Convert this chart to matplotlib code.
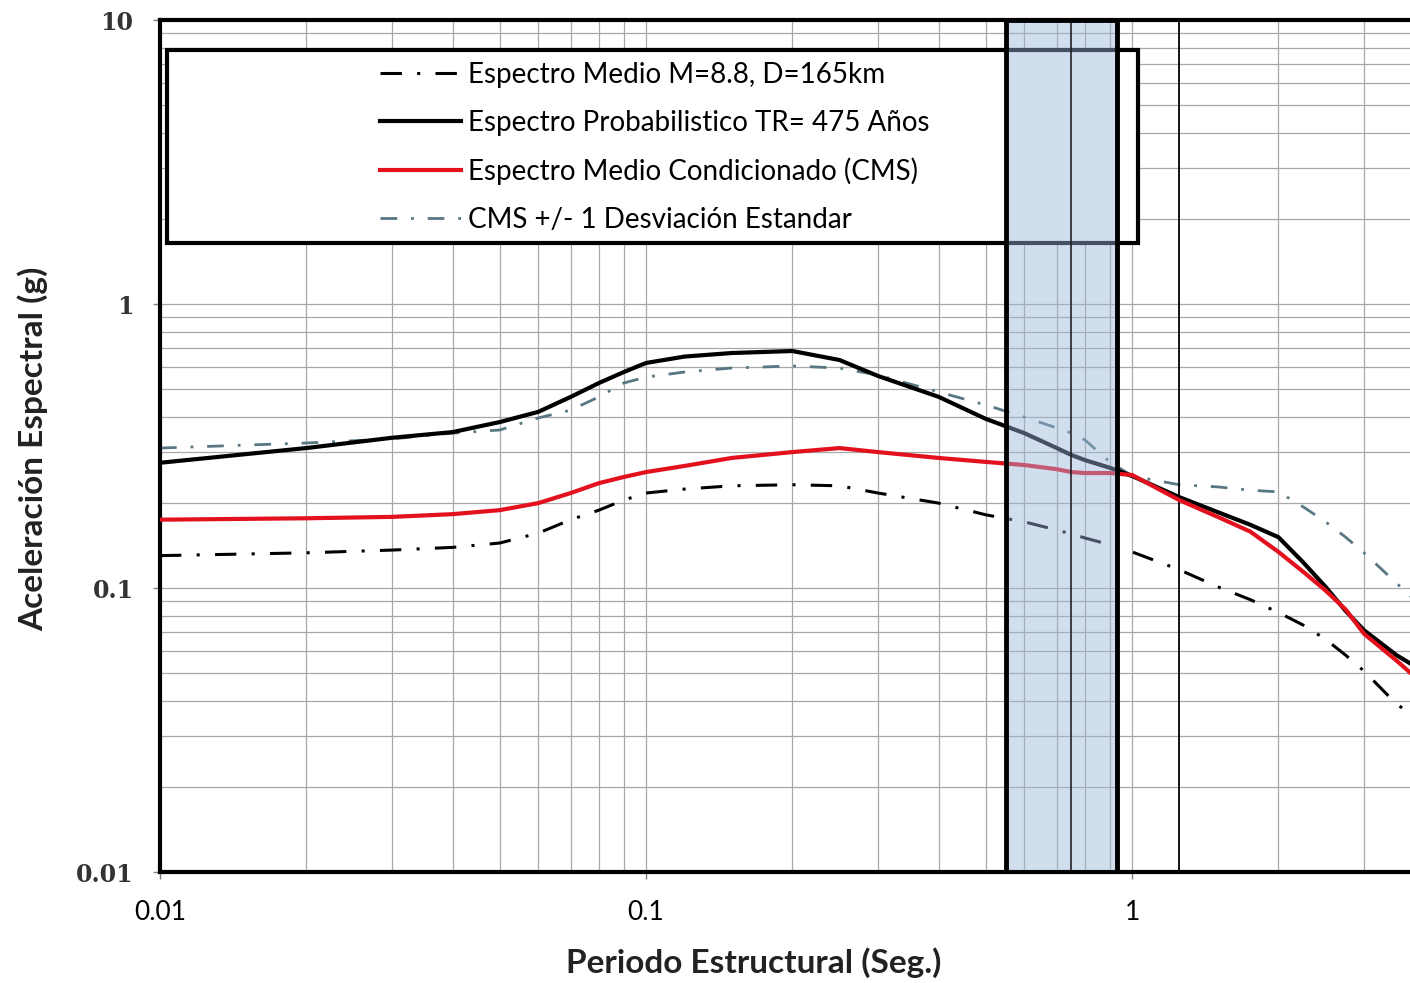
import matplotlib
matplotlib.use("Agg")
import matplotlib.pyplot as plt
import numpy as np
from matplotlib.patches import Rectangle
from matplotlib.ticker import LogLocator, NullFormatter

# Periodos estructurales (s)
periodos = [0.01, 0.02, 0.03, 0.04, 0.05, 0.06, 0.07, 0.08, 0.09, 0.10,
            0.12, 0.15, 0.20, 0.25, 0.30, 0.40, 0.50, 0.60, 0.70, 0.75,
            0.80, 0.90, 1.00, 1.25, 1.50, 1.75, 2.00, 2.25, 2.50, 2.75,
            3.00, 3.50, 3.75]

# Espectro medio M=8.8, D=165km
sa_medio = [0.130, 0.133, 0.136, 0.139, 0.144, 0.156, 0.174, 0.188, 0.204, 0.216,
            0.223, 0.229, 0.231, 0.229, 0.216, 0.199, 0.181, 0.171, 0.160, 0.155,
            0.150, 0.142, 0.134, 0.116, 0.101, 0.091, 0.082, 0.074, 0.066, 0.058,
            0.051, 0.039, 0.036]

# Espectro de peligro uniforme TR=475
sa_uhs = [0.276, 0.311, 0.338, 0.354, 0.384, 0.417, 0.471, 0.527, 0.576, 0.620,
          0.653, 0.672, 0.683, 0.635, 0.558, 0.471, 0.394, 0.351, 0.311, 0.294,
          0.282, 0.265, 0.248, 0.209, 0.185, 0.167, 0.151, 0.123, 0.101, 0.083,
          0.071, 0.058, 0.054]

# CMS
sa_cms = [0.174, 0.176, 0.178, 0.182, 0.188, 0.199, 0.216, 0.234, 0.246, 0.256,
          0.269, 0.287, 0.301, 0.311, 0.301, 0.287, 0.278, 0.271, 0.262, 0.256,
          0.254, 0.254, 0.250, 0.204, 0.178, 0.158, 0.134, 0.114, 0.098, 0.084,
          0.069, 0.0555, 0.050]

# CMS + 1 sigma
sa_cms_sigma = [0.311, 0.324, 0.335, 0.351, 0.360, 0.397, 0.423, 0.471, 0.527, 0.553,
                0.576, 0.595, 0.605, 0.595, 0.562, 0.490, 0.441, 0.400, 0.366, 0.351,
                0.332, 0.278, 0.248, 0.231, 0.227, 0.221, 0.218, 0.193, 0.171, 0.151,
                0.133, 0.104, 0.093]

etiquetas = ["Espectro Medio M=8.8, D=165km",
             "Espectro Probabilistico TR= 475 Años",
             "Espectro Medio Condicionado (CMS)",
             "CMS +/- 1 Desviación Estandar"]

x_ticks = [0.01, 0.1, 1]
x_tick_labels = ["0.01", "0.1", "1"]
y_ticks = [0.01, 0.1, 1, 10]
y_tick_labels = ["0.01", "0.1", "1", "10"]

# rango de periodos de interes y periodos de referencia
banda = (0.55, 0.93)
periodos_ref = [0.75, 1.25]

W, H = 1410, 983
fig = plt.figure(figsize=(W / 100, H / 100), dpi=100)
ax = fig.add_axes([160 / W, (H - 872) / H, 1 - 160 / W, (872 - 20) / H])
ax.set_xscale("log")
ax.set_yscale("log")

ax.plot(periodos, sa_cms_sigma, color="#587783", lw=2.0, ls=(0, (6, 5, 1, 5)),
        label=etiquetas[3], zorder=2)
ax.plot(periodos, sa_medio, color="black", lw=2.2, ls=(0, (7, 5, 1, 5)),
        label=etiquetas[0], zorder=3)
ax.plot(periodos, sa_uhs, color="black", lw=3, label=etiquetas[1], zorder=4)
ax.plot(periodos, sa_cms, color="#e3101e", lw=3, label=etiquetas[2], zorder=4.5)

ax.axvline(periodos_ref[0], color="#222222", lw=1.2, zorder=6.5)
ax.axvline(periodos_ref[1], color="black", lw=1.3, zorder=3)

ax.axvspan(*banda, facecolor="#9bb6db", alpha=0.45, lw=0, zorder=6)
ax.axvspan(*banda, fill=False, edgecolor="black", lw=3.5, zorder=7)

# caja de la leyenda
caja = Rectangle((167 / W, 1 - 243 / H), (1138 - 167) / W, (243 - 50) / H,
                 transform=fig.transFigure, facecolor="white", edgecolor="black",
                 lw=3, zorder=4.8)
ax.add_patch(caja)

handles, labels = ax.get_legend_handles_labels()
orden = [labels.index(e) for e in etiquetas]
leg = ax.legend([handles[i] for i in orden], [labels[i] for i in orden],
                loc="upper left", bbox_to_anchor=(380 / W, 1 - 62 / H),
                bbox_transform=fig.transFigure, frameon=False, borderpad=0,
                borderaxespad=0, handlelength=2.9, handletextpad=0.25,
                labelspacing=0.78, prop=dict(family="Lato", size=20))
leg.set_zorder(5)

ax.set_xlim(0.01, 3.73)
ax.set_ylim(0.01, 10)

ax.set_xticks(x_ticks)
ax.set_xticklabels(x_tick_labels, fontfamily="Lato", fontsize=19)
ax.set_yticks(y_ticks)
ax.set_yticklabels(y_tick_labels, fontfamily="DejaVu Serif", fontweight="bold",
                   fontsize=17, color="#333333")
for eje in (ax.xaxis, ax.yaxis):
    eje.set_minor_locator(LogLocator(base=10, subs=np.arange(2, 10) * 1.0, numticks=20))
    eje.set_minor_formatter(NullFormatter())
ax.tick_params(which="minor", length=0)
ax.tick_params(which="major", direction="out", length=5, width=1, color="#808080")
ax.tick_params(axis="x", pad=15)
ax.tick_params(axis="y", pad=14)

ax.grid(which="both", color="#a8a8a8", lw=0.9)
ax.set_axisbelow(True)

for lado in ("left", "bottom", "top"):
    ax.spines[lado].set_linewidth(3)
    ax.spines[lado].set_color("black")
ax.spines["right"].set_visible(False)

fig.text(754 / W, 1 - 963 / H, "Periodo Estructural (Seg.)", ha="center", va="center",
         fontfamily="Lato", fontweight="bold", fontsize=24, color="#222222")
fig.text(33 / W, 1 - 449 / H, "Aceleración Espectral (g)", ha="center", va="center",
         rotation=90, fontfamily="Lato", fontweight="bold", fontsize=24, color="#222222")

fig.savefig("out.png", dpi=100)
